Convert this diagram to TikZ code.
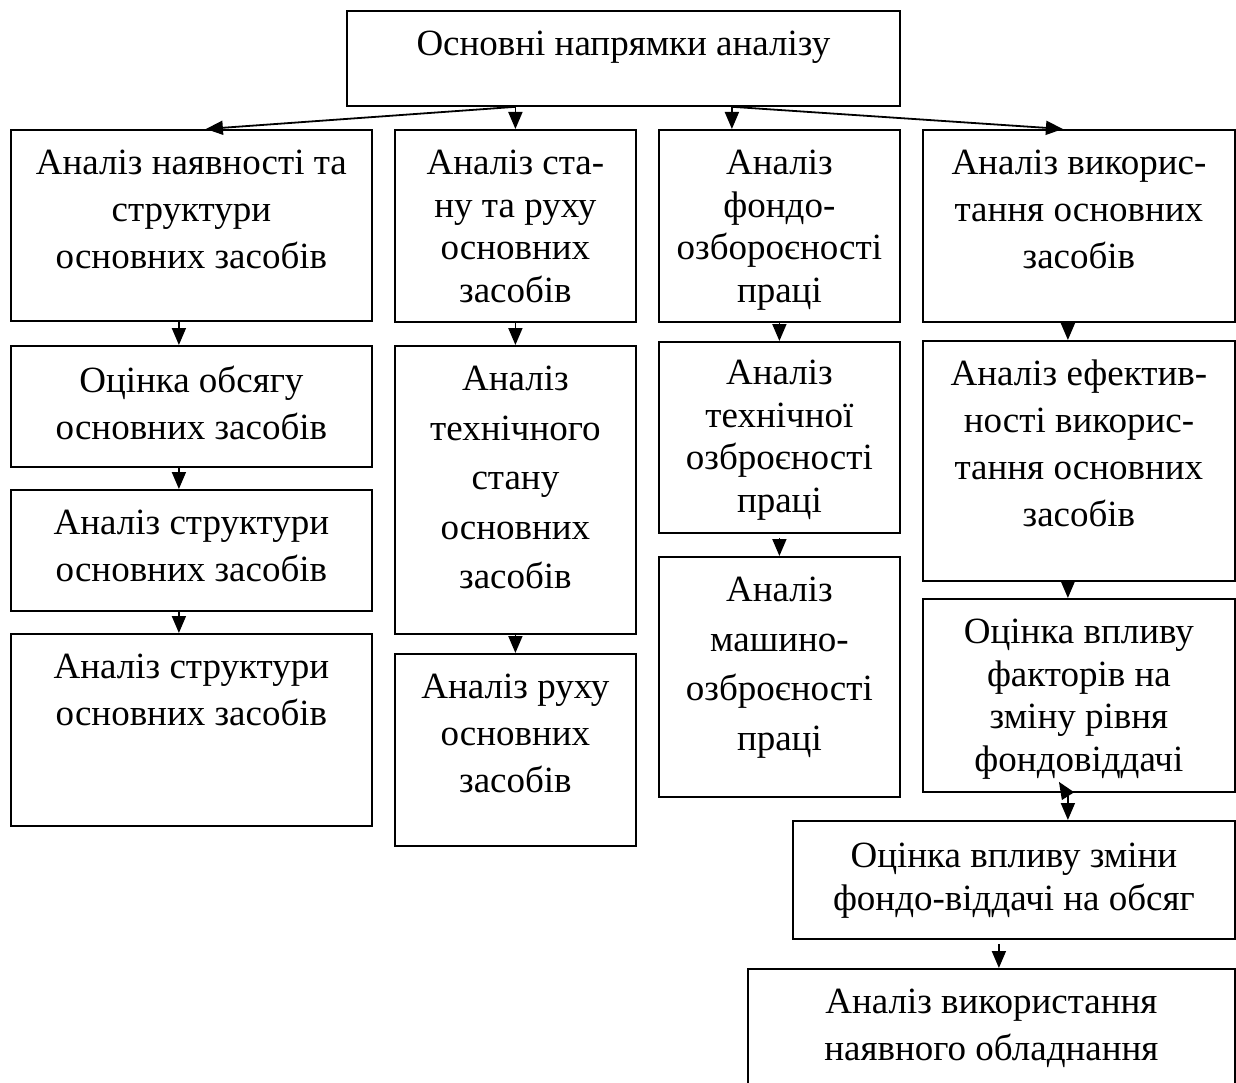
\documentclass[tikz,border=0pt]{standalone}
\usepackage{fontspec}
\setmainfont{Liberation Serif}
\usetikzlibrary{arrows.meta}
\begin{document}
\begin{tikzpicture}[x=1pt,y=-1pt,
  box/.style={draw, line width=1.8pt, inner sep=0pt, anchor=north west},
  txt/.style={anchor=north, align=center, inner sep=0pt, font=\fontsize{37}{47}\selectfont},
  tight/.style={font=\fontsize{37}{42.5}\selectfont},
  loose/.style={font=\fontsize{37}{49.5}\selectfont},
  arr/.style={line width=1.8pt, -{Triangle[length=17pt,width=14pt]}},
  darr/.style={line width=1.8pt, {Triangle[length=17pt,width=14pt]}-{Triangle[length=17pt,width=14pt]}}]
\useasboundingbox (0,0) rectangle (1236,1083);
\clip (0,0) rectangle (1236,1083);
\fill[white] (0,0) rectangle (1236,1083);
% boxes
\node[box, minimum width=553pt, minimum height=95pt] (top) at (346,10) {};
\node[box, minimum width=361pt, minimum height=191pt] (a1) at (10,129) {};
\node[box, minimum width=361pt, minimum height=121pt] (a2) at (10,345) {};
\node[box, minimum width=361pt, minimum height=121pt] (a3) at (10,489) {};
\node[box, minimum width=361pt, minimum height=192pt] (a4) at (10,633) {};
\node[box, minimum width=241pt, minimum height=192pt] (b1) at (394,129) {};
\node[box, minimum width=241pt, minimum height=288pt] (b2) at (394,345) {};
\node[box, minimum width=241pt, minimum height=192pt] (b3) at (394,653) {};
\node[box, minimum width=241pt, minimum height=192pt] (c1) at (658,129) {};
\node[box, minimum width=241pt, minimum height=191pt] (c2) at (658,341) {};
\node[box, minimum width=241pt, minimum height=240pt] (c3) at (658,556) {};
\node[box, minimum width=312pt, minimum height=192pt] (d1) at (922,129) {};
\node[box, minimum width=312pt, minimum height=240pt] (d2) at (922,340) {};
\node[box, minimum width=312pt, minimum height=193pt] (d3) at (922,598) {};
\node[box, minimum width=442pt, minimum height=118pt] (e) at (792,820) {};
\node[box, minimum width=487pt, minimum height=140pt] (f) at (747,968) {};
% texts
\node[txt] (topt) at ([yshift=-21pt]top.north) {Основні напрямки аналізу};
\node[txt] (a1t) at ([yshift=-21pt]a1.north) {Аналіз наявності та\\структури\\основних засобів};
\node[txt] (a2t) at ([yshift=-21pt]a2.north) {Оцінка обсягу\\основних засобів};
\node[txt] (a3t) at ([yshift=-21pt]a3.north) {Аналіз структури\\основних засобів};
\node[txt] (a4t) at ([yshift=-21pt]a4.north) {Аналіз структури\\основних засобів};
\node[txt,tight] (b1t) at ([yshift=-21pt]b1.north) {Аналіз ста-\\ну та руху\\основних\\засобів};
\node[txt,loose] (b2t) at ([yshift=-21pt]b2.north) {Аналіз\\технічного\\стану\\основних\\засобів};
\node[txt] (b3t) at ([yshift=-21pt]b3.north) {Аналіз руху\\основних\\засобів};
\node[txt,tight] (c1t) at ([yshift=-21pt]c1.north) {Аналіз\\фондо-\\озбороєності\\праці};
\node[txt,tight] (c2t) at ([yshift=-19pt]c2.north) {Аналіз\\технічної\\озброєності\\праці};
\node[txt,loose] (c3t) at ([yshift=-21pt]c3.north) {Аналіз\\машино-\\озброєності\\праці};
\node[txt] (d1t) at ([yshift=-21pt]d1.north) {Аналіз викорис-\\тання основних\\засобів};
\node[txt] (d2t) at ([yshift=-20pt]d2.north) {Аналіз ефектив-\\ності викорис-\\тання основних\\засобів};
\node[txt,tight] (d3t) at ([yshift=-21pt]d3.north) {Оцінка впливу\\факторів на\\зміну рівня\\фондовіддачі};
\node[txt,tight] (et) at ([yshift=-23pt]e.north) {Оцінка впливу зміни\\фондо-віддачі на обсяг};
\node[txt] (ft) at ([yshift=-21pt]f.north) {Аналіз використання\\наявного обладнання};
% connectors
\draw[arr] ([xshift=-107.5pt]top.south) -- ([xshift=14.5pt]a1.north);
\draw[arr] (b1.north |- top.south) -- (b1.north);
\draw[arr] ([xshift=108.5pt]top.south) -- ([xshift=-47.5pt]c1.north);
\draw[arr] ([xshift=108.5pt]top.south) -- ([xshift=-16pt]d1.north);
\draw[arr] ([xshift=-12.5pt]a1.south) -- ([xshift=-12.5pt]a2.north);
\draw[arr] ([xshift=-12.5pt]a2.south) -- ([xshift=-12.5pt]a3.north);
\draw[arr] ([xshift=-12.5pt]a3.south) -- ([xshift=-12.5pt]a4.north);
\draw[arr] (b1.south) -- (b2.north);
\draw[arr] (b2.south) -- (b3.north);
\draw[arr] (c1.south) -- (c2.north);
\draw[arr] ([yshift=-4pt]c2.south) -- (c3.north);
\draw[arr] ([xshift=-11pt]d1.south) -- ([xshift=-11pt]d2.north);
\draw[arr] ([xshift=-11pt]d2.south) -- ([xshift=-11pt]d3.north);
\draw[darr] ([xshift=-20pt,yshift=11pt]d3.south) -- ([xshift=54pt,yshift=24pt]e.north) -- ([xshift=54pt]e.north);
\draw[arr] ([xshift=-15pt,yshift=-4pt]e.south) -- ([xshift=-15pt]e.south |- f.north);
\end{tikzpicture}
\end{document}
